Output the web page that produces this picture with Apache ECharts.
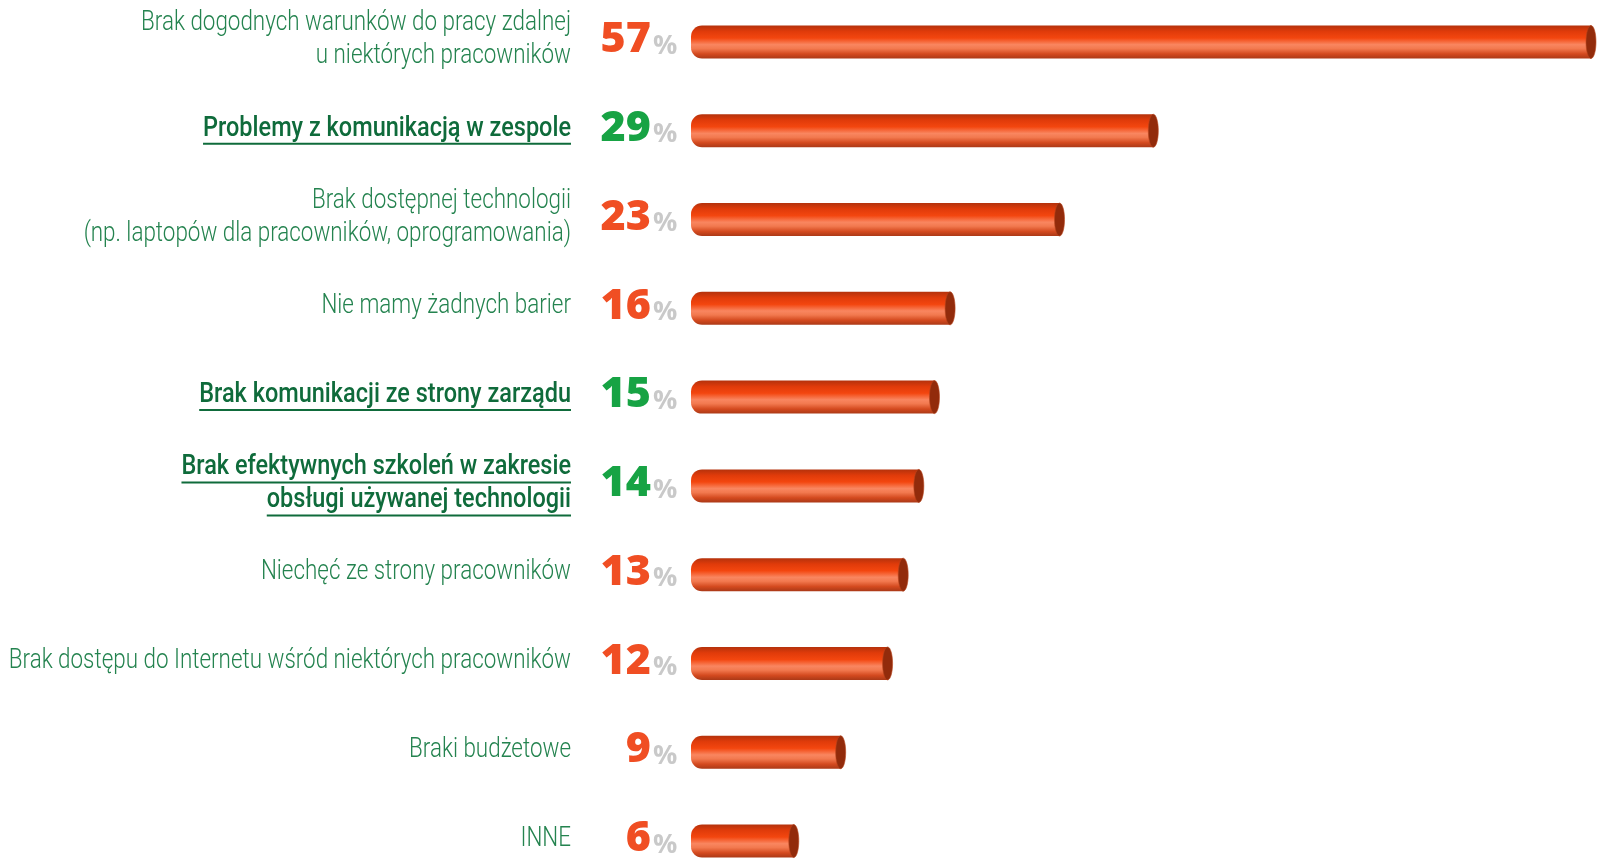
<!DOCTYPE html>
<html>
<head>
<meta charset="utf-8">
<script src="https://cdn.jsdelivr.net/npm/echarts@6/dist/echarts.min.js"></script>
<style>
  html, body { margin: 0; padding: 0; background: #ffffff; }
  #chart { width: 1613px; height: 861px; }
</style>
</head>
<body>
<div id="chart"></div>
<script>
// Bariery pracy zdalnej – odsetek wskazań
const categories = [
  'Brak dogodnych warunków do pracy zdalnej\nu niektórych pracowników',
  'Problemy z komunikacją w zespole',
  'Brak dostępnej technologii\n(np. laptopów dla pracowników, oprogramowania)',
  'Nie mamy żadnych barier',
  'Brak komunikacji ze strony zarządu',
  'Brak efektywnych szkoleń w zakresie\nobsługi używanej technologii',
  'Niechęć ze strony pracowników',
  'Brak dostępu do Internetu wśród niektórych pracowników',
  'Braki budżetowe',
  'INNE'
];
const values = [57, 29, 23, 16, 15, 14, 13, 12, 9, 6];
// rows whose label is emphasised (bold, underlined, green number)
const emphasised = [
  'Problemy z komunikacją w zespole',
  'Brak komunikacji ze strony zarządu',
  'Brak efektywnych szkoleń w zakresie\nobsługi używanej technologii'
];

// condensed look: a regular face squeezed horizontally
const LABEL_FONT = "Roboto, 'Noto Sans', sans-serif";
const SQUEEZE_LIGHT = 0.83;
const SQUEEZE_BOLD = 0.87;
const NUM_FONT = "'Open Sans', 'DejaVu Sans', sans-serif";

const measureCtx = document.createElement('canvas').getContext('2d');
function textWidth(str, font) {
  measureCtx.font = font;
  return measureCtx.measureText(str).width;
}

const chart = echarts.init(document.getElementById('chart'), null, { renderer: 'canvas' });

function renderItem(params, api) {
  const v = api.value(0);
  const idx = api.value(1);
  const name = categories[idx];
  const strong = emphasised.indexOf(name) >= 0;
  const p0 = api.coord([0, idx]);
  const p1 = api.coord([v, idx]);
  const cy = p0[1];
  const h = 33;
  const x0 = p0[0] - 14;
  const x1 = p1[0];
  const children = [];

  // cylinder body
  children.push({
    type: 'rect',
    shape: { x: x0, y: cy - h / 2, width: Math.max(x1 - 5 - x0, 1), height: h, r: [11, 0, 0, 11] },
    style: {
      fill: new echarts.graphic.LinearGradient(0, 0, 0, 1, [
        { offset: 0, color: '#b4320c' },
        { offset: 0.18, color: '#e03b0a' },
        { offset: 0.38, color: '#f3460f' },
        { offset: 0.58, color: '#f98660' },
        { offset: 0.7, color: '#f2794f' },
        { offset: 0.86, color: '#d44a1f' },
        { offset: 1, color: '#ab3917' }
      ])
    }
  });
  // cut end of the cylinder
  children.push({
    type: 'ellipse',
    shape: { cx: x1 - 5, cy: cy, rx: 5, ry: h / 2 },
    style: { fill: '#922b0b', stroke: '#b8441c', lineWidth: 0.6 }
  });

  // value and percent sign
  children.push({
    type: 'text',
    style: {
      text: String(v), x: 651, y: cy - 2,
      align: 'right', verticalAlign: 'middle',
      font: '800 43px ' + NUM_FONT,
      fill: strong ? '#17a344' : '#f04e23'
    }
  });
  children.push({
    type: 'text',
    style: {
      text: '%', x: 653, y: cy + 4,
      align: 'left', verticalAlign: 'middle',
      font: '700 27px ' + NUM_FONT,
      fill: '#c9c9c9'
    }
  });

  // category label, right aligned, one text per line
  const lines = name.split('\n');
  const lh = 33;
  const font = (strong ? '500 ' : '300 ') + '27px ' + LABEL_FONT;
  const squeeze = strong ? SQUEEZE_BOLD : SQUEEZE_LIGHT;
  const color = strong ? '#0f6b3b' : '#24834f';
  const top = cy - 2 - (lines.length - 1) * lh / 2;
  lines.forEach(function (line, k) {
    const ly = top + k * lh;
    children.push({
      type: 'text',
      x: 571, y: ly, scaleX: squeeze, scaleY: 1,
      style: { text: line, x: 0, y: 0, align: 'right', verticalAlign: 'middle', font: font, fill: color }
    });
    if (strong) {
      const w = textWidth(line, font) * squeeze;
      children.push({
        type: 'rect',
        shape: { x: 571 - w, y: ly + 14, width: w, height: 2 },
        style: { fill: color }
      });
    }
  });

  return { type: 'group', children: children };
}

chart.setOption({
  backgroundColor: '#ffffff',
  animation: false,
  grid: { left: 705, right: 17, top: 42, bottom: 20, containLabel: false },
  xAxis: { type: 'value', min: 0, max: 57, show: false },
  yAxis: {
    type: 'category', data: categories, inverse: true, boundaryGap: false, show: false
  },
  series: [{
    type: 'custom',
    renderItem: renderItem,
    clip: false,
    data: values.map(function (v, i) { return [v, i]; }),
    encode: { x: 0, y: 1 }
  }]
});
</script>
</body>
</html>
